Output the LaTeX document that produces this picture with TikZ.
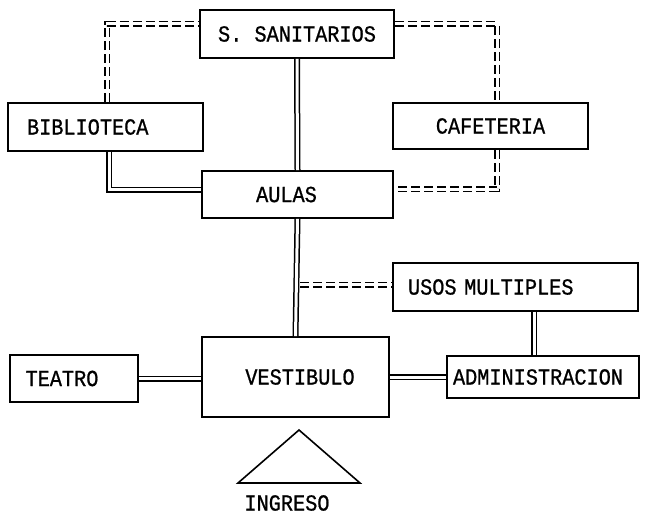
\documentclass[tikz,border=0pt]{standalone}
\usepackage{fontspec}
\newfontfamily\typefont[FakeStretch=0.88,FakeBold=0.8]{Liberation Mono}
\begin{document}
\begin{tikzpicture}[x=1pt,y=-1pt,
  every node/.style={font=\typefont\fontsize{23}{23}\selectfont},
  box/.style={draw,line width=1.6pt,inner sep=0pt},
  dbl/.style={draw,line width=1.5pt,double=white,double distance=3pt},
  ddash/.style={draw,line width=1.5pt,double=white,double distance=3pt,dash pattern=on 9pt off 4pt}]
\useasboundingbox[fill=white] (0,0) rectangle (647,518);
% boxes
\node[box,minimum width=194pt,minimum height=48pt] (san) at (297,34) {S. SANITARIOS};
\node[box,minimum width=195pt,minimum height=48pt,text width=157pt,inner xsep=19pt,align=left] (bib) at (105.5,127) {BIBLIOTECA};
\node[box,minimum width=195pt,minimum height=46pt] (caf) at (490.5,126) {CAFETERIA};
\node[box,minimum width=191pt,minimum height=47pt] (aul) at (297.5,194.5) {AULAS\hspace*{22pt}};
\node[box,minimum width=245pt,minimum height=48pt,text width=215pt,inner xsep=15pt,align=left] (usos) at (515.5,287) {USOS MULTIPLES};
\node[box,minimum width=192pt,minimum height=42pt,text width=180pt,inner xsep=6pt,align=left] (adm) at (543,377) {ADMINISTRACION};
\node[box,minimum width=128pt,minimum height=47pt] (tea) at (74,378.5) {TEATRO\hspace*{24pt}};
\node[box,minimum width=187pt,minimum height=80pt] (ves) at (295.5,377) {\hspace*{9pt}VESTIBULO};
% solid double connectors
\draw[dbl] (san.south) -- (aul.north);
\draw[dbl] ([xshift=3.5pt]bib.south) |- ([yshift=4.5pt]aul.west);
\draw[dbl] (aul.south) -- (ves.north);
\draw[dbl] ([xshift=-9pt]usos.south -| adm.north) -- ([xshift=-9pt]adm.north);
\draw[dbl] (tea.east) -- (tea.east -| ves.west);
\draw[dbl] (ves.east) -- (ves.east -| adm.west);
% dashed double connectors
\coordinate (mid) at (300,285);
\draw[ddash] (mid) -- (mid -| usos.west);
\draw[ddash] ([xshift=1.5pt]bib.north) |- ([yshift=10pt]san.west);
\draw[ddash] ([yshift=10pt]san.east) -| ([xshift=6.5pt]caf.north);
\draw[ddash] ([xshift=6.5pt]caf.south) |- ([yshift=5pt]aul.east);
% entrance
\coordinate (apex) at (299,430);
\coordinate (bl) at (238,483);
\coordinate (br) at (360,483);
\draw[line width=1.6pt] (bl) -- (apex) -- (br) -- cycle;
\node (ing) at (287,503) {INGRESO};
\end{tikzpicture}
\end{document}
